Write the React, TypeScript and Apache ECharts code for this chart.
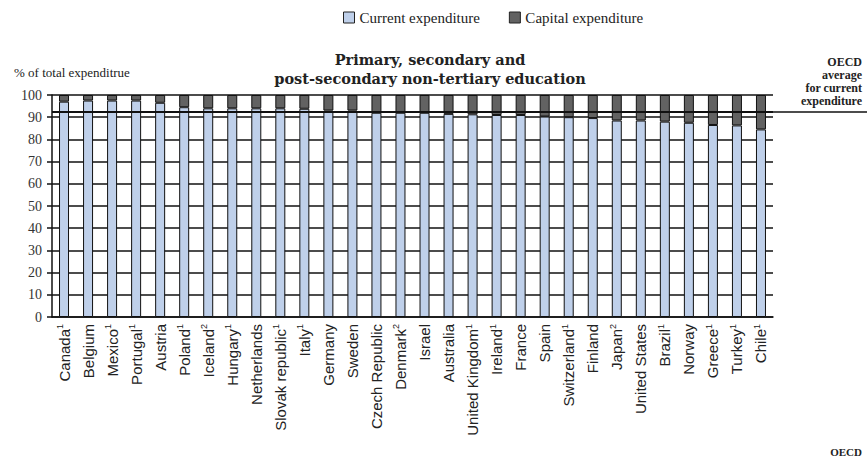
import React, { useEffect, useRef } from "react";
import * as echarts from "echarts";

const countries = [
  "Canada", "Belgium", "Mexico", "Portugal", "Austria", "Poland", "Iceland", "Hungary",
  "Netherlands", "Slovak republic", "Italy", "Germany", "Sweden", "Czech Republic", "Denmark",
  "Israel", "Australia", "United Kingdom", "Ireland", "France", "Spain", "Switzerland",
  "Finland", "Japan", "United States", "Brazil", "Norway", "Greece", "Turkey", "Chile",
];
const footnotes = [
  "1", "", "1", "1", "", "1", "2", "1", "", "1", "1", "", "", "", "2",
  "", "", "1", "1", "", "", "1", "", "2", "", "1", "", "1", "1", "1",
];
const currentExp = [
  97, 97.5, 97.5, 97.5, 96.5, 94.5, 94, 94, 94, 94, 93.8, 93, 93, 92, 92,
  92, 91.5, 91.3, 91, 91, 90.3, 90, 89.6, 88.5, 88.5, 88, 87.5, 86.5, 86.3, 84.5,
];
const capitalExp = currentExp.map((v) => +(100 - v).toFixed(1));
const oecdAverage = 92.3;
const yTicks = { min: 0, max: 100, interval: 10 };

const SERIF = "'Liberation Serif', 'DejaVu Serif', serif";
const TITLE_SERIF = "'DejaVu Serif', 'Liberation Serif', serif";
const NARROW = "'Liberation Sans Narrow', 'Liberation Sans', 'DejaVu Sans', sans-serif";

export default function App() {
  const ref = useRef<HTMLDivElement>(null);
  useEffect(() => {
    document.body.style.margin = "0";
    if (!ref.current) return;
    const chart = echarts.init(ref.current, null, { renderer: "svg" });
    const option: any = {
      animation: false,
      backgroundColor: "#ffffff",
      legend: {
        top: 5,
        left: 338,
        itemWidth: 11,
        itemHeight: 11,
        itemGap: 29,
        textStyle: { fontFamily: SERIF, fontSize: 15, color: "#222" },
        data: [
          { name: "Current expenditure", icon: "rect", itemStyle: { borderColor: "#222", borderWidth: 1 } },
          { name: "Capital expenditure", icon: "rect", itemStyle: { borderColor: "#222", borderWidth: 1 } },
        ],
      },
      grid: { left: 52, right: 94, top: 95, bottom: 144 },
      xAxis: {
        type: "category",
        data: countries,
        axisLine: { lineStyle: { color: "#111", width: 1.5 } },
        axisTick: { show: false },
        axisLabel: {
          interval: 0,
          rotate: 90,
          margin: 7,
          fontFamily: NARROW,
          fontSize: 15,
          color: "#222",
          formatter: (v: string, i: number) =>
            footnotes[i] ? `{n|${v}}{s|${footnotes[i]}}` : `{n|${v}}`,
          rich: {
            n: { fontFamily: NARROW, fontSize: 15, color: "#222", lineHeight: 17 },
            s: { fontFamily: NARROW, fontSize: 9, color: "#222", verticalAlign: "top", lineHeight: 17 },
          },
        },
      },
      yAxis: {
        type: "value",
        min: yTicks.min,
        max: yTicks.max,
        interval: yTicks.interval,
        axisLine: { show: true, lineStyle: { color: "#111", width: 1.5 } },
        axisTick: { show: true, length: 5, lineStyle: { color: "#111", width: 1.5 } },
        axisLabel: { fontFamily: SERIF, fontSize: 14, color: "#333", margin: 10 },
        splitLine: { show: true, lineStyle: { color: "#111", width: 1.5 } },
      },
      series: [
        {
          name: "Current expenditure",
          type: "bar",
          stack: "total",
          data: currentExp,
          barWidth: 10,
          itemStyle: { color: "#bfd0ea", borderColor: "#111", borderWidth: 1 },
          markLine: {
            silent: true,
            symbol: "none",
            label: { show: false },
            lineStyle: { color: "#111", width: 2, type: "solid" },
            data: [{ yAxis: oecdAverage }],
          },
        },
        {
          name: "Capital expenditure",
          type: "bar",
          stack: "total",
          data: capitalExp,
          barWidth: 10,
          itemStyle: { color: "#626262", borderColor: "#111", borderWidth: 1 },
        },
      ],
    };
    chart.setOption(option);
    const yAvg = chart.convertToPixel({ yAxisIndex: 0 }, oecdAverage) as number;
    const xRight = chart.convertToPixel({ xAxisIndex: 0 }, countries.length - 1) as number;
    const rightEdge = xRight + 11;
    chart.setOption({
      graphic: [
        {
          type: "text",
          left: 14,
          top: 66,
          style: { text: "% of total expenditrue", fontFamily: SERIF, fontSize: 13, fill: "#222" },
        },
        {
          type: "text",
          x: 430,
          y: 50,
          style: {
            text: "Primary, secondary and\npost-secondary non-tertiary education",
            fontFamily: TITLE_SERIF,
            fontSize: 14.5,
            fontWeight: "bold",
            lineHeight: 19,
            fill: "#222",
            align: "center",
            verticalAlign: "top",
          },
        },
        {
          type: "text",
          x: 862,
          y: yAvg - 5,
          style: {
            text: "OECD\naverage\nfor current\nexpenditure",
            fontFamily: SERIF,
            fontSize: 12,
            fontWeight: "bold",
            lineHeight: 13,
            fill: "#222",
            align: "right",
            verticalAlign: "bottom",
          },
        },
        {
          type: "line",
          shape: { x1: rightEdge, y1: yAvg, x2: 867, y2: yAvg },
          style: { stroke: "#111", lineWidth: 1.5 },
        },
        {
          type: "text",
          x: 862,
          y: 446,
          style: { text: "OECD", fontFamily: SERIF, fontSize: 11, fontWeight: "bold", fill: "#222", align: "right" },
        },
      ],
    });
    return () => chart.dispose();
  }, []);
  return <div ref={ref} style={{ width: 867, height: 461 }} />;
}
